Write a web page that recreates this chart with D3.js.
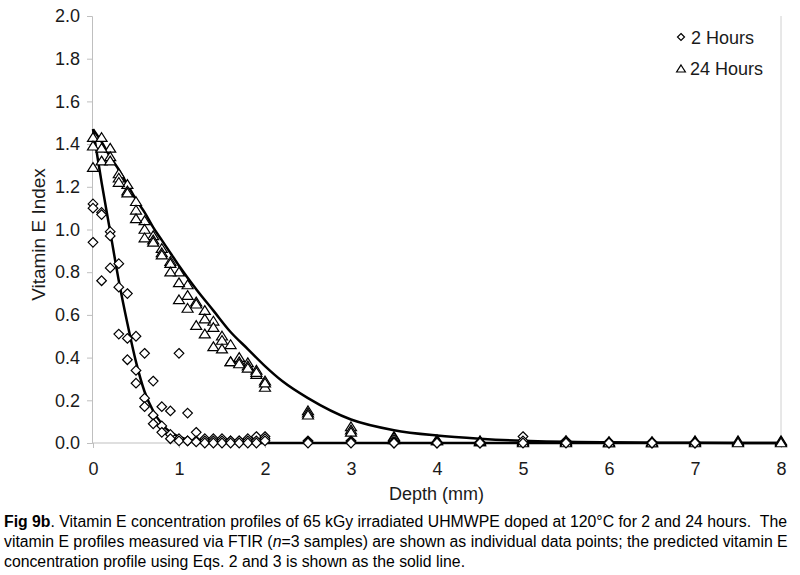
<!DOCTYPE html>
<html><head><meta charset="utf-8">
<script src="https://cdn.jsdelivr.net/npm/d3@7"></script>
<style>
body{margin:0;background:#fff;}
svg{display:block;font-family:"Liberation Sans",Arial,sans-serif;}
</style></head>
<body>
<script>
// ---- data ----
const depth2h = [0,0.1,0.2,0.3,0.4,0.5,0.6,0.7,0.8,0.9,1.0,1.1,1.2,1.3,1.4,1.5,1.6,1.7,1.8,1.9,2.0,2.5,3,3.5,4,4.5,5,5.5,6,6.5,7];
const h2RepA = [1.12,1.08,0.99,0.84,0.70,0.50,0.42,0.29,0.17,0.15,0.42,0.14,0.05,0.02,0.02,0.02,0.01,0.01,0.02,0.03,0.03,0.01,0.01,0.005,0.005,0.005,0.03,0.01,0.005,0.005,0.005];
const h2RepB = [1.10,1.07,0.97,0.73,0.49,0.34,0.21,0.13,0.08,0.04,0.02,0.01,0.01,0.01,0.01,0.01,0.01,0.01,0.01,0.01,0.02,0.005,0.005,0,0,0,0.01,0.005,0,0,0];
const h2RepC = [0.94,0.76,0.82,0.51,0.39,0.28,0.17,0.09,0.05,0.02,0.01,0.01,0.005,0,0,0,0,0,0,0,0.01,0,0,0,0,0,0,0,0,0,0];

const depth24h = [0,0.1,0.2,0.3,0.4,0.5,0.6,0.7,0.8,0.9,1.0,1.1,1.2,1.3,1.4,1.5,1.6,1.7,1.8,1.9,2.0,2.5,3,3.5,4,4.5,5,5.5,6,6.5,7,7.5,8];
const h24RepA = [1.43,1.43,1.38,1.26,1.21,1.13,1.04,0.97,0.91,0.85,0.80,0.74,0.66,0.62,0.57,0.50,0.46,0.40,0.375,0.34,0.29,0.15,0.075,0.03,0.015,0.01,0.01,0.01,0.005,0.005,0.01,0.01,0.01];
const h24RepB = [1.39,1.38,1.34,1.24,1.18,1.09,1.00,0.95,0.89,0.84,0.75,0.69,0.65,0.58,0.54,0.48,0.38,0.38,0.36,0.32,0.26,0.14,0.06,0.025,0.01,0.005,0.005,0.005,0,0,0.005,0.005,0.005];
const h24RepC = [1.29,1.32,1.32,1.22,1.17,1.05,0.96,0.94,0.88,0.80,0.67,0.63,0.55,0.51,0.45,0.44,0.38,0.37,0.35,0.33,0.28,0.13,0.05,0.015,0.01,0.005,0,0,0,0,0,0,0];

const fitDepth2h = [0,0.1,0.2,0.3,0.4,0.5,0.6,0.7,0.8,0.9,1.0,1.1,1.2,1.3,1.5,2,8];
const fit2h = [1.47,1.22,0.99,0.76,0.56,0.38,0.24,0.15,0.09,0.05,0.03,0.015,0.007,0.003,0.001,0,0];
const fitDepth24h = [0,0.1,0.2,0.3,0.4,0.5,0.6,0.7,0.8,0.9,1.0,1.2,1.4,1.6,1.8,2.0,2.2,2.5,3.0,3.5,4.0,4.5,5.0,6,7,8];
const fit24h = [1.47,1.41,1.34,1.28,1.21,1.14,1.08,1.01,0.95,0.89,0.83,0.72,0.62,0.52,0.44,0.36,0.29,0.21,0.11,0.06,0.035,0.02,0.01,0.003,0.001,0];

const xTicks = [0,1,2,3,4,5,6,7,8];
const yTicks = [0,0.2,0.4,0.6,0.8,1.0,1.2,1.4,1.6,1.8,2.0];
const seriesNames = ["2 Hours","24 Hours"];
const xTitle = "Depth (mm)";
const yTitle = "Vitamin E Index";

// ---- layout ----
const W = 800, H = 575;
const L = 92, R = 781, T = 16, B = 443;
const svg = d3.select("body").append("svg").attr("width",W).attr("height",H);
const x = d3.scaleLinear().domain([0,8]).range([L+1,R]);
const y = d3.scaleLinear().domain([0,2]).range([B,T]);
const axisCol = "#bfbfbf", txtCol = "#1a1a1a";

// right border
svg.append("line").attr("x1",R).attr("x2",R).attr("y1",T).attr("y2",B).attr("stroke","#d0d0d0");

const gy = svg.append("g").attr("transform",`translate(${L},0)`)
  .call(d3.axisLeft(y).tickValues(yTicks).tickSize(5).tickPadding(7).tickFormat(d3.format(".1f")));
const gx = svg.append("g").attr("transform",`translate(0,${B})`)
  .call(d3.axisBottom(x).tickValues(xTicks).tickSize(5).tickPadding(14).tickFormat(d3.format("d")));
[gx,gy].forEach(g=>{
  g.select(".domain").attr("stroke",axisCol);
  g.selectAll(".tick line").attr("stroke",axisCol);
  g.selectAll(".tick text").attr("fill",txtCol).attr("font-size",18).attr("font-family","Liberation Sans, Arial, sans-serif");
});
gx.select(".domain").attr("d",`M${L},0H${R}`);

svg.append("text").attr("x",(L+R)/2).attr("y",500).attr("text-anchor","middle")
  .attr("font-size",18).attr("fill",txtCol).text(xTitle);
svg.append("text").attr("transform",`translate(45,${(T+B)/2+5}) rotate(-90)`).attr("text-anchor","middle")
  .attr("font-size",19).attr("fill",txtCol).text(yTitle);

// ---- fitted curves ----
const line = d3.line().x(d=>x(d[0])).y(d=>y(d[1])).curve(d3.curveMonotoneX);
svg.append("path").datum(fitDepth24h.map((d,i)=>[d,fit24h[i]]))
  .attr("d",line).attr("fill","none").attr("stroke","#000").attr("stroke-width",2.5);
svg.append("path").datum(fitDepth2h.map((d,i)=>[d,fit2h[i]]))
  .attr("d",line).attr("fill","none").attr("stroke","#000").attr("stroke-width",2.5);

// ---- markers ----
function diamond(cx,cy,r){return `M${cx},${cy-r}L${cx+r},${cy}L${cx},${cy+r}L${cx-r},${cy}Z`;}
function triangle(cx,cy,r){return `M${cx},${cy-r}L${cx+r*1.1},${cy+r*0.75}L${cx-r*1.1},${cy+r*0.75}Z`;}

const pts24 = [];
[h24RepA,h24RepB,h24RepC].forEach(rep=>rep.forEach((v,i)=>pts24.push([depth24h[i],v])));
const pts2 = [];
[h2RepA,h2RepB,h2RepC].forEach(rep=>rep.forEach((v,i)=>pts2.push([depth2h[i],v])));

svg.append("g").selectAll("path").data(pts24).join("path")
  .attr("d",d=>triangle(x(d[0]),y(d[1]),5)).attr("fill","#fff").attr("stroke","#000").attr("stroke-width",1.2);
svg.append("g").selectAll("path").data(pts2).join("path")
  .attr("d",d=>diamond(x(d[0]),y(d[1]),4.8)).attr("fill","#fff").attr("stroke","#000").attr("stroke-width",1.2);

// ---- legend ----
const lg = svg.append("g");
lg.append("path").attr("d",diamond(681,37,3.5)).attr("fill","#fff").attr("stroke","#000").attr("stroke-width",1.2);
lg.append("text").attr("x",691).attr("y",44).attr("font-size",18).attr("fill",txtCol).text(seriesNames[0]);
lg.append("path").attr("d",triangle(681,69,4)).attr("fill","#fff").attr("stroke","#000").attr("stroke-width",1.2);
lg.append("text").attr("x",690).attr("y",75).attr("font-size",18).attr("fill",txtCol).text(seriesNames[1]);

// ---- caption ----
const cap = svg.append("g").attr("font-size",15.8).attr("fill","#000");
const c1 = cap.append("text").attr("x",4).attr("y",527);
c1.append("tspan").attr("font-weight","bold").text("Fig 9b");
c1.append("tspan").text(". Vitamin E concentration profiles of 65 kGy irradiated UHMWPE doped at 120°C for 2 and 24 hours.\u00a0\u00a0The");
const c2 = cap.append("text").attr("x",4).attr("y",547);
c2.append("tspan").text("vitamin E profiles measured via FTIR (");
c2.append("tspan").attr("font-style","italic").text("n");
c2.append("tspan").text("=3 samples) are shown as individual data points; the predicted vitamin E");
cap.append("text").attr("x",4).attr("y",567).text("concentration profile using Eqs. 2 and 3 is shown as the solid line.");
</script>
</body></html>
